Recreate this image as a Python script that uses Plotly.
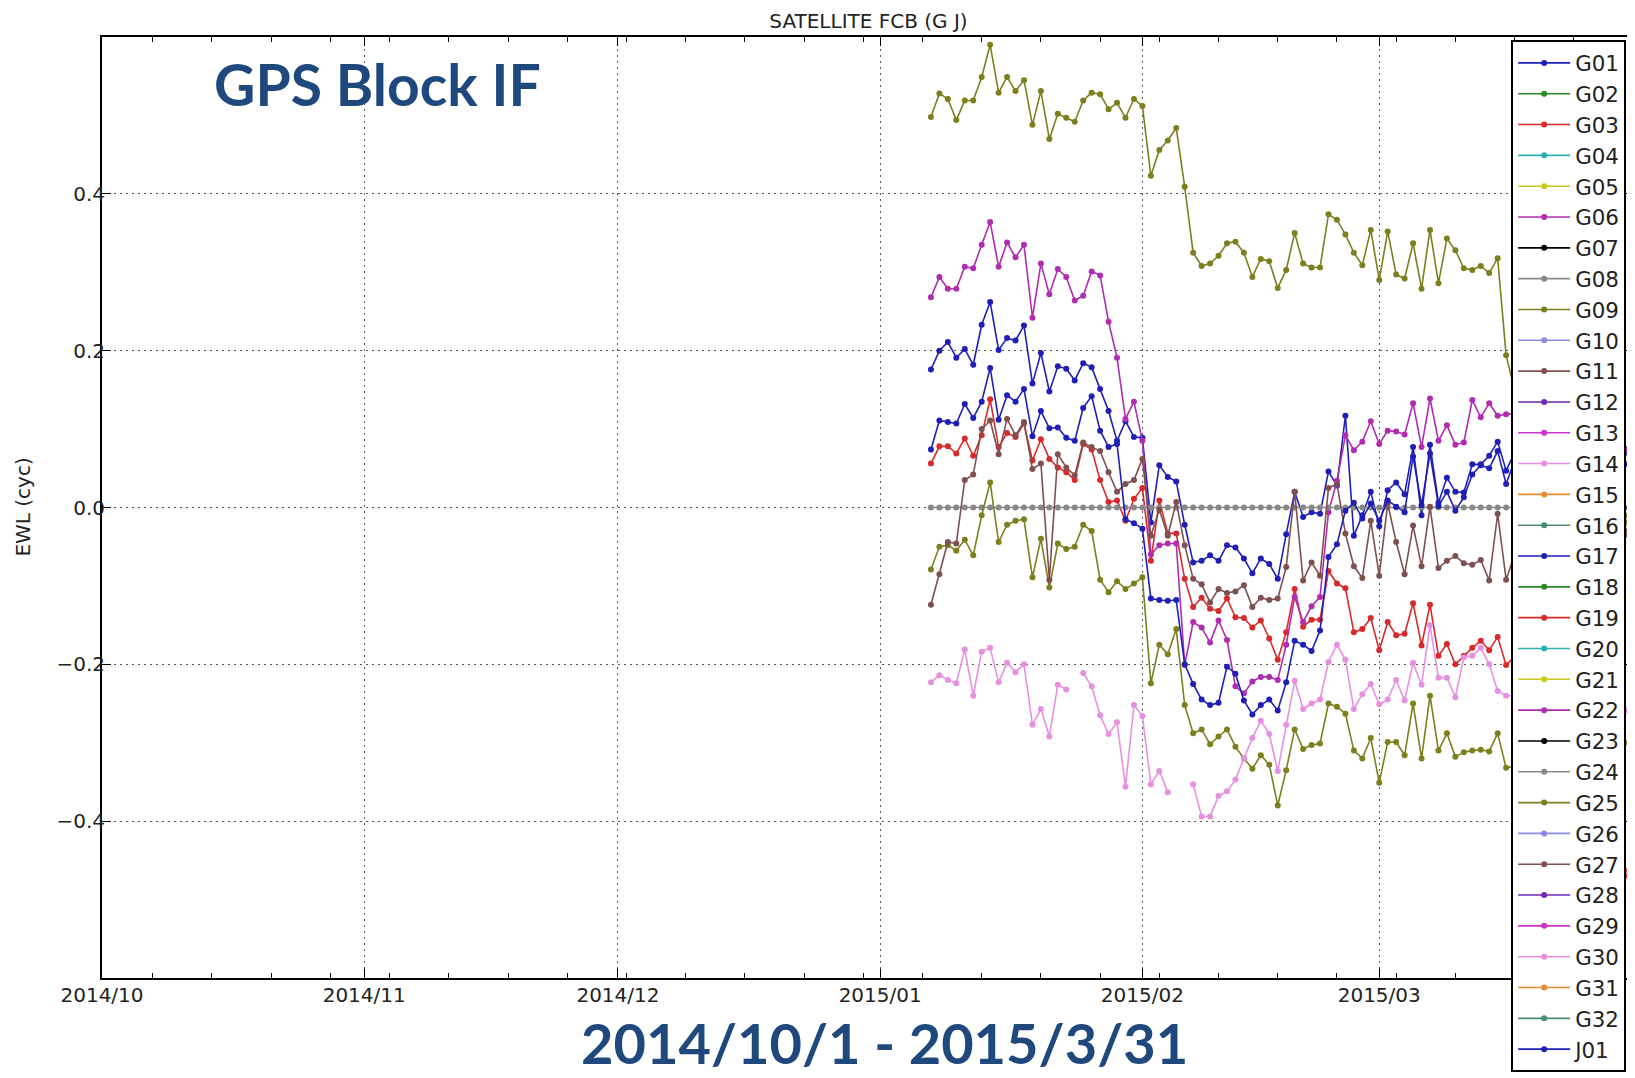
import plotly.graph_objects as go
import pandas as pd

# ---------------- data ----------------
start_date = "2015-01-07"
end_date = "2015-03-31"
dates = pd.date_range(start_date, end_date, freq="D")  # 84 daily epochs

names = ["G%02d" % k for k in range(1, 33)] + ["J01"]

HIDDEN = [None] * 11  # epochs hidden behind the legend (Mar 18 - Mar 28)

g01 = [0.176, 0.200, 0.211, 0.191, 0.202, 0.182, 0.233, 0.262, 0.201, 0.216,
       0.213, 0.232, 0.158, 0.197, 0.148, 0.180, 0.177, 0.162, 0.184, 0.179,
       0.151, 0.123, 0.085, 0.110, 0.090, 0.089, -0.019, 0.054, 0.039, 0.033,
       -0.022, -0.070, -0.068, -0.061, -0.068, -0.048, -0.051, -0.065, -0.084, -0.065,
       -0.072, -0.091, -0.034, 0.020, -0.012, -0.006, -0.008, 0.046, 0.028, 0.117,
       -0.036, -0.010, 0.020, -0.024, 0.022, 0.032, 0.017, 0.077, -0.010, 0.080,
       0.006, 0.038, 0.020, 0.019, 0.055, 0.055, 0.066, 0.084, 0.047, 0.070] + HIDDEN + [0.060, 0.075, 0.050]

g03 = [0.056, 0.078, 0.078, 0.069, 0.088, 0.066, 0.092, 0.138, 0.077, 0.095,
       0.090, 0.107, 0.060, 0.087, 0.062, 0.051, 0.045, 0.035, 0.081, 0.074,
       0.035, 0.007, 0.009, -0.017, 0.011, 0.025, -0.068, 0.009, -0.033, -0.033,
       -0.091, -0.127, -0.115, -0.129, -0.132, -0.116, -0.140, -0.141, -0.153, -0.144,
       -0.167, -0.194, -0.159, -0.104, -0.152, -0.143, -0.143, -0.081, -0.097, -0.103,
       -0.159, -0.155, -0.141, -0.182, -0.146, -0.163, -0.161, -0.122, -0.176, -0.124,
       -0.189, -0.174, -0.200, -0.189, -0.179, -0.170, -0.182, -0.165, -0.201, -0.190] + HIDDEN + [-0.500, -0.470, -0.440]

g06 = [0.268, 0.294, 0.279, 0.279, 0.307, 0.305, 0.335, 0.364, 0.307, 0.338,
       0.319, 0.335, 0.242, 0.311, 0.272, 0.304, 0.294, 0.264, 0.270, 0.301,
       0.296, 0.237, 0.191, 0.113, 0.135, 0.085, -0.060, -0.048, -0.046, -0.046,
       -0.201, -0.146, -0.153, -0.172, -0.144, -0.169, -0.228, -0.237, -0.222, -0.216,
       -0.216, -0.220, -0.175, -0.114, -0.146, -0.126, -0.114, -0.006, 0.034, 0.092,
       0.073, 0.084, 0.110, 0.081, 0.098, 0.097, 0.093, 0.133, 0.077, 0.139,
       0.085, 0.105, 0.080, 0.083, 0.137, 0.115, 0.133, 0.117, 0.119, 0.120] + HIDDEN + [0.070, 0.075, 0.060]

g09 = [0.498, 0.528, 0.521, 0.494, 0.519, 0.519, 0.549, 0.590, 0.529, 0.549,
       0.531, 0.545, 0.488, 0.531, 0.470, 0.502, 0.497, 0.492, 0.519, 0.529,
       0.527, 0.508, 0.516, 0.497, 0.521, 0.512, 0.423, 0.456, 0.468, 0.484,
       0.409, 0.325, 0.308, 0.311, 0.321, 0.337, 0.339, 0.325, 0.294, 0.317,
       0.314, 0.280, 0.303, 0.350, 0.311, 0.306, 0.306, 0.374, 0.367, 0.348,
       0.325, 0.309, 0.354, 0.290, 0.352, 0.297, 0.292, 0.337, 0.279, 0.354,
       0.286, 0.343, 0.328, 0.305, 0.303, 0.308, 0.299, 0.318, 0.194, 0.150] + HIDDEN + [0.000, -0.010, -0.050]

g24 = [0.0] * len(dates)  # reference satellite, fixed at zero

g25 = [-0.079, -0.050, -0.048, -0.055, -0.041, -0.061, -0.010, 0.032, -0.044, -0.022,
       -0.017, -0.015, -0.089, -0.040, -0.102, -0.046, -0.053, -0.050, -0.022, -0.030,
       -0.092, -0.108, -0.094, -0.104, -0.097, -0.089, -0.224, -0.175, -0.187, -0.155,
       -0.252, -0.288, -0.283, -0.302, -0.292, -0.283, -0.305, -0.320, -0.333, -0.316,
       -0.328, -0.380, -0.335, -0.283, -0.308, -0.303, -0.301, -0.250, -0.254, -0.263,
       -0.310, -0.320, -0.294, -0.351, -0.299, -0.299, -0.316, -0.250, -0.320, -0.240,
       -0.310, -0.288, -0.318, -0.312, -0.310, -0.309, -0.311, -0.288, -0.332, -0.330] + HIDDEN + [-0.310, -0.300, -0.300]

g27 = [-0.124, -0.085, -0.044, -0.046, 0.035, 0.042, 0.100, 0.111, 0.068, 0.113,
       0.092, 0.109, 0.049, 0.056, -0.092, 0.068, 0.051, 0.041, 0.083, 0.077,
       0.072, 0.045, 0.020, 0.030, 0.035, 0.062, -0.036, -0.003, -0.036, 0.007,
       -0.048, -0.091, -0.098, -0.121, -0.104, -0.109, -0.107, -0.099, -0.127, -0.115,
       -0.118, -0.116, -0.076, 0.020, -0.093, -0.070, -0.087, 0.025, 0.030, -0.033,
       -0.075, -0.090, -0.017, -0.087, 0.005, -0.044, -0.085, -0.023, -0.075, 0.001,
       -0.077, -0.068, -0.062, -0.071, -0.073, -0.067, -0.093, -0.008, -0.092, -0.060] + HIDDEN + [-0.060, -0.035, -0.010]

g30 = [-0.223, -0.214, -0.220, -0.224, -0.181, -0.240, -0.184, -0.179, -0.223, -0.198,
       -0.210, -0.200, -0.277, -0.257, -0.292, -0.226, -0.232, None, -0.211, -0.228,
       -0.265, -0.289, -0.274, -0.356, -0.252, -0.266, -0.353, -0.336, -0.363, None,
       None, -0.353, -0.394, -0.394, -0.368, -0.362, -0.347, -0.320, -0.294, -0.272,
       -0.289, -0.336, -0.277, -0.221, -0.257, -0.250, -0.245, -0.197, -0.175, -0.194,
       -0.257, -0.238, -0.225, -0.251, -0.245, -0.220, -0.246, -0.198, -0.226, -0.150,
       -0.217, -0.217, -0.242, -0.191, -0.189, -0.179, -0.200, -0.234, -0.240, -0.240] + HIDDEN + [-0.250, -0.260, -0.245]

j01 = [0.074, 0.111, 0.109, 0.107, 0.132, 0.114, 0.135, 0.178, 0.112, 0.143,
       0.135, 0.151, 0.091, 0.123, 0.101, 0.102, 0.089, 0.085, 0.127, 0.142,
       0.098, 0.077, 0.081, -0.015, -0.020, -0.027, -0.116, -0.118, -0.119, -0.118,
       -0.200, -0.225, -0.245, -0.252, -0.249, -0.203, -0.212, -0.246, -0.264, -0.252,
       -0.245, -0.259, -0.223, -0.170, -0.175, -0.183, -0.157, -0.063, -0.047, -0.004,
       0.006, -0.014, 0.005, -0.017, 0.009, 0.001, -0.006, 0.065, 0.003, 0.069,
       0.002, 0.020, -0.004, 0.013, 0.042, 0.054, 0.050, 0.072, 0.030, 0.060] + HIDDEN + [0.050, 0.055, 0.065]

series = {"G01": g01, "G03": g03, "G06": g06, "G09": g09, "G24": g24,
          "G25": g25, "G27": g27, "G30": g30, "J01": j01}

palette = ["#1f1fb8", "#2a8a2a", "#d82a2a", "#2ab0b0", "#c8c820", "#b02cb0",
           "#000000", "#888888", "#7c7f1c", "#8a8ae0", "#7f5050", "#6a2ab4",
           "#cc33cc", "#e890e0", "#e8892e", "#4a8a7a"]

y_ticks = [-0.4, -0.2, 0.0, 0.2, 0.4]

# ---------------- layout geometry ----------------
OFF = 8                      # default page margin of the html body
W, H = 1635 - OFF, 1078 - OFF
plot_left, plot_top, plot_bottom = 102 - OFF, 36.5 - OFF, 978 - OFF
L, R, T, B = plot_left, 0, plot_top, H - plot_bottom
pw, ph = W - L - R, H - T - B


def px(xpage):
    return (xpage - OFF - L) / pw


def py(ypage):
    return (plot_bottom - (ypage - OFF)) / ph


fig = go.Figure()
for k, name in enumerate(names):
    col = palette[k % 16]
    vals = series.get(name)
    if vals is None:
        xs, ys = [None], [None]
    else:
        xs, ys = dates, vals
    fig.add_trace(go.Scatter(
        x=xs, y=ys, name=name, mode="lines+markers",
        line=dict(color=col, width=1.6), marker=dict(color=col, size=6),
        connectgaps=False))

font_main = "DejaVu Sans"
blue_txt = "#1f497d"

fig.add_shape(type="rect", xref="x", yref="y", x0="2014-10-02", x1="2014-12-30",
              y0=0.49, y1=0.597, fillcolor="white", line=dict(width=0), layer="below")

fig.add_annotation(text="<b>GPS Block IF</b>", xref="paper", yref="paper",
                   x=px(212), y=py(83.5), xanchor="left", yanchor="middle",
                   showarrow=False, font=dict(family="Lato", size=57, color=blue_txt))
fig.add_annotation(text="<b>2014/10/1 - 2015/3/31</b>", xref="paper", yref="paper",
                   x=px(886), y=py(1077), xanchor="center", yanchor="bottom",
                   borderpad=0, showarrow=False,
                   font=dict(family="Lato", size=56, color=blue_txt))
fig.add_annotation(text="EWL (cyc)", xref="paper", yref="paper", textangle=-90,
                   x=px(22), y=0.5, xanchor="center", yanchor="middle",
                   showarrow=False, font=dict(family=font_main, size=20, color="#222"))

fig.update_layout(
    width=W, height=H,
    margin=dict(l=L, r=R, t=T, b=B),
    paper_bgcolor="white", plot_bgcolor="white",
    title=dict(text="SATELLITE FCB (G J)", x=(868.5 - OFF) / W, xref="container",
               y=1 - (21 - OFF) / H, yref="container", xanchor="center", yanchor="middle",
               font=dict(family=font_main, size=20, color="#222")),
    showlegend=True,
    legend=dict(x=px(1513), y=py(40), xanchor="left", yanchor="top",
                bgcolor="white", bordercolor="#000", borderwidth=2,
                font=dict(family=font_main, size=21.4, color="#222"),
                itemwidth=52, maxheight=1100),
    xaxis=dict(type="date", range=["2014-10-01", end_date],
               tick0="2014-10-01", dtick="M1", tickformat="%Y/%m",
               ticks="inside", ticklen=9, tickwidth=1, tickcolor="#000",
               showline=True, linecolor="#000", linewidth=2, mirror="allticks",
               showgrid=True, gridcolor="#555", gridwidth=1, griddash="2px,4px",
               zeroline=False, ticklabelstandoff=-2,
               minor=dict(ticks="inside", ticklen=5, tickcolor="#000",
                          tick0="2014-10-07", dtick=7 * 86400000, showgrid=False),
               tickfont=dict(family=font_main, size=20, color="#222")),
    yaxis=dict(range=[-0.6, 0.6], tickvals=y_ticks, tickformat=".1f",
               ticks="inside", ticklen=9, tickwidth=1, tickcolor="#000",
               showline=True, linecolor="#000", linewidth=2, mirror="allticks",
               showgrid=True, gridcolor="#555", gridwidth=1, griddash="2px,4px",
               zeroline=False, ticklabelstandoff=-9,
               tickfont=dict(family=font_main, size=20, color="#222")),
)

fig.write_html("out.html")
